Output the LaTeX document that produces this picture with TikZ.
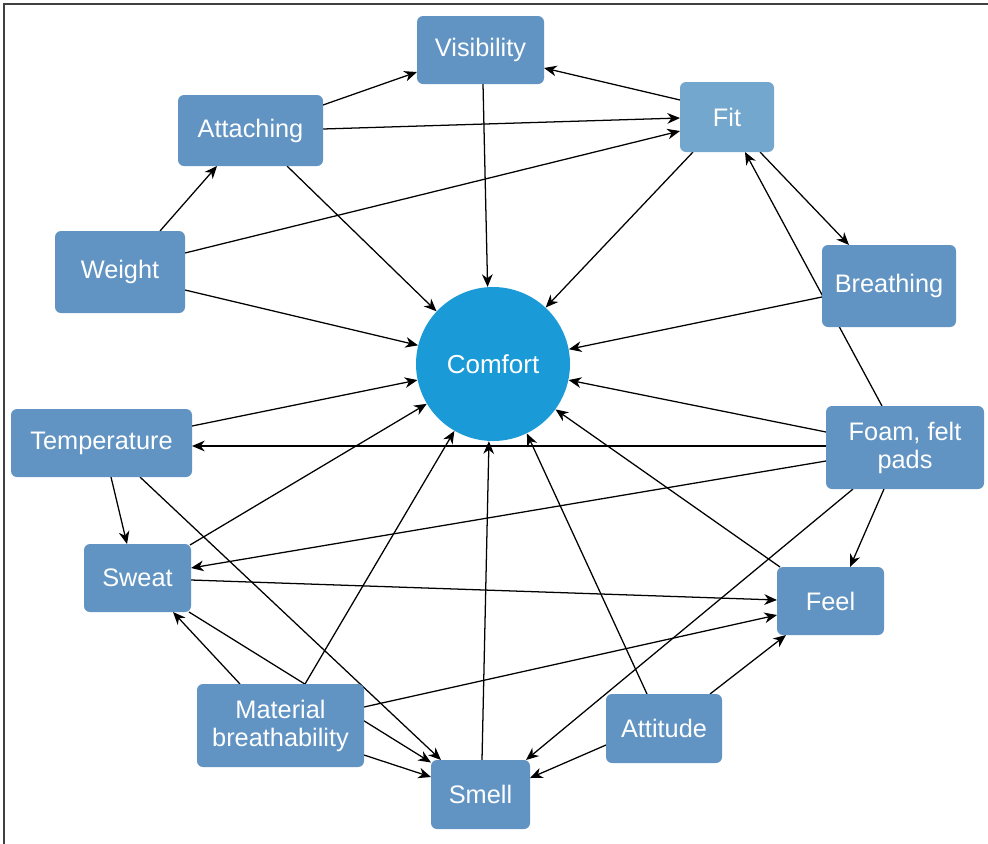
\documentclass[tikz,border=0pt]{standalone}
\usepackage{fontspec}
\setmainfont{Liberation Sans}
\usetikzlibrary{arrows.meta}
\definecolor{boxblue}{HTML}{6194C3}
\definecolor{fitblue}{HTML}{73A7CD}
\definecolor{comblue}{HTML}{1A9BD7}
\definecolor{framegray}{HTML}{404040}
\pgfdeclarelayer{edgelayer}
\pgfsetlayers{edgelayer,main}
\begin{document}
\begin{tikzpicture}[x=0.75pt,y=-0.75pt,
  box/.style={rectangle, rounded corners=4.5pt, fill=boxblue, draw=none, text=white,
    font=\fontsize{19}{21}\selectfont, align=center, inner sep=0pt},
  circ/.style={circle, fill=comblue, draw=none, text=white,
    font=\fontsize{19.5}{21}\selectfont, inner sep=0pt, minimum size=115.5pt},
  link/.style={draw=black, line width=0.95pt, -{Stealth[length=9.5pt,width=8pt,inset=3pt]}}]
\useasboundingbox (0,0) rectangle (988,843);
\draw[framegray, line width=1.2pt] (4,860) -- (4,4) -- (1000,4);

\node[box, minimum width=95.25pt, minimum height=51pt] (vis) at (480.5,50) {Visibility};
\node[box, fill=fitblue, minimum width=70.5pt, minimum height=52.5pt] (fit) at (727,117) {Fit};
\node[box, minimum width=108.75pt, minimum height=53.25pt] (att) at (250.5,130.5) {Attaching};
\node[box, minimum width=97.5pt, minimum height=61.5pt] (wei) at (120,272) {Weight};
\node[box, minimum width=100.5pt, minimum height=61.5pt] (bre) at (889,286) {Breathing};
\node[box, minimum width=135.75pt, minimum height=51pt] (tem) at (101.5,443) {Temperature};
\node[box, minimum width=118.5pt, minimum height=62.25pt] (foa) at (905,447.5) {Foam, felt\\pads};
\node[box, minimum width=80.25pt, minimum height=51pt] (swe) at (137.5,578) {Sweat};
\node[box, minimum width=80.25pt, minimum height=51pt] (fee) at (830.5,601) {Feel};
\node[box, minimum width=125.25pt, minimum height=62.25pt] (mat) at (280.5,725.5) {Material\\breathability};
\node[box, minimum width=87pt, minimum height=51.75pt] (atd) at (664,728.5) {Attitude};
\node[box, minimum width=74.25pt, minimum height=51.75pt] (sme) at (480.5,794.5) {Smell};
\node[circ] (com) at (493,364) {Comfort};

\begin{pgfonlayer}{edgelayer}
\draw[link] ([shift={(40,-41)}]wei.center) -- ([shift={(-33.5,35.5)}]att.center);
\draw[link] ([shift={(72.5,-25.5)}]att.center) -- ([shift={(-63.5,22)}]vis.center);
\draw[link] ([shift={(72.5,-1.5)}]att.center) -- ([shift={(-47,1)}]fit.center);
\draw[link] ([shift={(65,-19)}]wei.center) -- ([shift={(-47,14)}]fit.center);
\draw[link] ([shift={(-47,-17)}]fit.center) -- ([shift={(63.5,18)}]vis.center);
\draw[link] ([shift={(2.5,34)}]vis.center) -- (com.94);
\draw[link] ([shift={(36.5,35.5)}]att.center) -- (com.137);
\draw[link] ([shift={(65,18)}]wei.center) -- (com.166);
\draw[link] ([shift={(-34,35)}]fit.center) -- (com.47);
\draw[link] ([shift={(-23,-41.5)}]foa.center) -- ([shift={(18,35)}]fit.center);
\draw[link] ([shift={(33,35)}]fit.center) -- ([shift={(-40,-41)}]bre.center);
\draw[link] ([shift={(-67,11)}]bre.center) -- (com.11);
\draw[link] ([shift={(-79,-15.5)}]foa.center) -- (com.348);
\draw[link] ([shift={(-50.5,-34)}]fee.center) -- (com.324);
\draw[link] ([shift={(-79,-1.5)}]foa.center) -- ([shift={(90.5,3)}]tem.center);
\draw[link] ([shift={(-79,13.5)}]foa.center) -- ([shift={(53.5,-10)}]swe.center);
\draw[link] ([shift={(-21,41.5)}]foa.center) -- ([shift={(19.5,-34)}]fee.center);
\draw[link] ([shift={(-52,41.5)}]foa.center) -- ([shift={(45.5,-34.5)}]sme.center);
\draw[link] ([shift={(90.5,-17)}]tem.center) -- (com.192);
\draw[link] ([shift={(9.5,34)}]tem.center) -- ([shift={(-10.5,-34)}]swe.center);
\draw[link] ([shift={(38.5,34)}]tem.center) -- ([shift={(-39.5,-34.5)}]sme.center);
\draw[link] ([shift={(52.5,-33)}]swe.center) -- (com.211);
\draw[link] ([shift={(53.5,2)}]swe.center) -- ([shift={(-53.5,-1)}]fee.center);
\draw[link] ([shift={(51.5,34)}]swe.center) -- ([shift={(-49.5,-32)}]sme.center);
\draw[link] ([shift={(-40.5,-41.5)}]mat.center) -- ([shift={(35.5,34)}]swe.center);
\draw[link] ([shift={(24.5,-41.5)}]mat.center) -- (com.240);
\draw[link] ([shift={(83.5,29.5)}]mat.center) -- ([shift={(-49.5,-17.5)}]sme.center);
\draw[link] ([shift={(83.5,-18.5)}]mat.center) -- ([shift={(-53.5,14)}]fee.center);
\draw[link] ([shift={(-17,-34.5)}]atd.center) -- (com.296);
\draw[link] ([shift={(46,-34.5)}]atd.center) -- ([shift={(-44.5,34)}]fee.center);
\draw[link] ([shift={(-58,16.5)}]atd.center) -- ([shift={(49.5,-16.5)}]sme.center);
\draw[link] ([shift={(1.5,-34.5)}]sme.center) -- (com.267);
\end{pgfonlayer}
\end{tikzpicture}
\end{document}
